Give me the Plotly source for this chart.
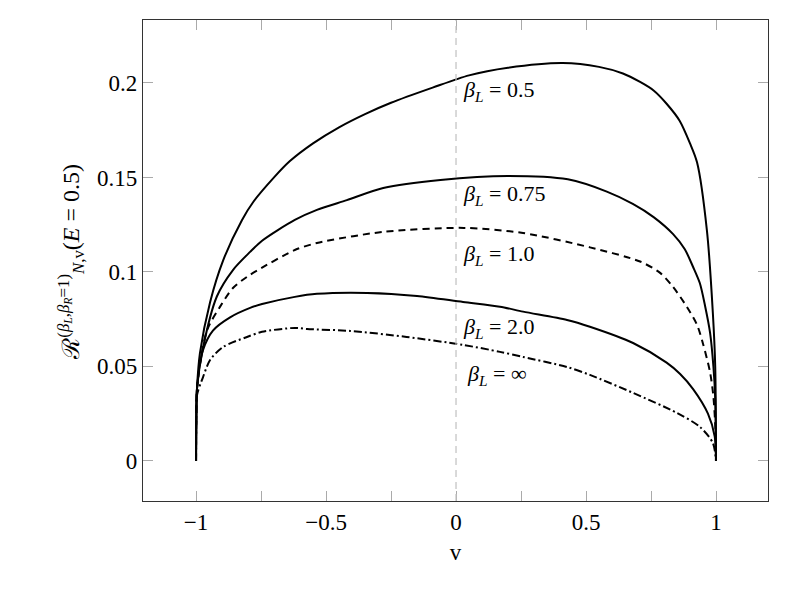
"""
Rate R_{N,v}^{(beta_L, beta_R=1)}(E=0.5) against v for several beta_L.
pgfplots-like look: boxed axes, inward ticks, serif text.
"""

import plotly.graph_objects as go

# ---------------------------------------------------------------------------
# Data
# ---------------------------------------------------------------------------
V_B05 = [-1, -0.999, -0.996, -0.985, -0.946, -0.896, -0.823, -0.78, -0.7,
         -0.64, -0.55, -0.45, -0.35, -0.25, -0.09, 0.05, 0.2, 0.41, 0.55,
         0.642, 0.708, 0.76, 0.81, 0.86, 0.9, 0.927, 0.965, 0.988, 0.997, 1]
R_B05 = [0, 0.022, 0.039, 0.057, 0.084, 0.106, 0.1275, 0.137, 0.150,
         0.1585, 0.168, 0.1765, 0.1835, 0.1895, 0.1975, 0.204, 0.208, 0.2105, 0.2085,
         0.205, 0.2005, 0.196, 0.189, 0.18, 0.168, 0.158, 0.122, 0.078, 0.05, 0]

V_B075 = [-1, -0.999, -0.996, -0.973, -0.92, -0.858, -0.792, -0.746, -0.62,
          -0.535, -0.42, -0.28, -0.06, 0.2, 0.43, 0.58, 0.68, 0.76, 0.835,
          0.88, 0.912, 0.938, 0.958, 0.977, 0.99, 0.997, 1]
R_B075 = [0, 0.022, 0.039, 0.060, 0.087, 0.101, 0.1106, 0.1165, 0.1275,
          0.1328, 0.138, 0.1444, 0.1487, 0.1508, 0.149, 0.1425, 0.136, 0.129, 0.12,
          0.112, 0.1026, 0.094, 0.082, 0.068, 0.05, 0.033, 0]

V_B1 = [-1, -0.999, -0.996, -0.958, -0.908, -0.858, -0.804, -0.762, -0.62,
        -0.535, -0.28, 0.03, 0.258, 0.515, 0.708, 0.785, 0.835, 0.888, 0.927,
        0.95, 0.977, 0.99, 0.998, 1]
R_B1 = [0, 0.022, 0.039, 0.069, 0.0815, 0.0915, 0.0974, 0.101, 0.1116,
        0.1153, 0.1212, 0.1233, 0.1206, 0.113, 0.1055, 0.0995, 0.092, 0.0815, 0.072,
        0.062, 0.047, 0.034, 0.016, 0]

V_B2 = [-1, -0.999, -0.996, -0.973, -0.935, -0.869, -0.792, -0.746, -0.62,
        -0.535, -0.342, -0.15, 0.027, 0.169, 0.258, 0.427, 0.515, 0.681,
        0.81, 0.862, 0.912, 0.969, 0.995, 1]
R_B2 = [0, 0.022, 0.039, 0.0587, 0.069, 0.076, 0.081, 0.083, 0.0868,
        0.0884, 0.0889, 0.0873, 0.0841, 0.0816, 0.079, 0.0746, 0.071, 0.0624,
        0.052, 0.046, 0.038, 0.025, 0.013, 0]

V_BINF = [-1, -0.999, -0.996, -0.973, -0.946, -0.896, -0.804, -0.746, -0.62,
          -0.573, -0.408, -0.19, 0.027, 0.169, 0.258, 0.427, 0.515, 0.681,
          0.85, 0.938, 0.988, 1]
R_BINF = [0, 0.02, 0.035, 0.0444, 0.0534, 0.0603, 0.0656, 0.0683, 0.0704,
          0.0698, 0.0688, 0.0656, 0.0614, 0.0577, 0.055, 0.0497, 0.0455, 0.036,
          0.0254, 0.018, 0.0095, 0]

LABELS = ["0.5", "0.75", "1.0", "2.0", "∞"]
LABEL_X = [0.02, 0.02, 0.02, 0.02, 0.035]
LABEL_Y = [0.196, 0.1407, 0.109, 0.0704, 0.0455]

X_TICKS = [-1, -0.75, -0.5, -0.25, 0, 0.25, 0.5, 0.75, 1]
X_TICKTEXT = ["−1", "", "−0.5", "", "0", "", "0.5", "", "1"]
Y_TICKS = [0, 0.05, 0.1, 0.15, 0.2]
Y_TICKTEXT = ["0", "0.05", "0.1", "0.15", "0.2"]

FONT = "Liberation Serif"
BLACK = "#000000"
GUIDE_GRAY = "#c0c0c0"

series = [
    (V_B05, R_B05, "solid"),
    (V_B075, R_B075, "solid"),
    (V_B1, R_B1, "7px,5px"),
    (V_B2, R_B2, "solid"),
    (V_BINF, R_BINF, "8px,3px,2px,3px"),
]

fig = go.Figure()

# dashed guide at v = 0
fig.add_vline(x=0, line=dict(color=GUIDE_GRAY, width=1.2, dash="7px,5px"))

for (vx, ry, dash), lab in zip(series, LABELS):
    fig.add_trace(go.Scatter(
        x=vx, y=ry, mode="lines", name=lab,
        line=dict(color=BLACK, width=2, dash=dash, shape="spline", smoothing=0.8),
        showlegend=False,
    ))

for lab, lx, ly in zip(LABELS, LABEL_X, LABEL_Y):
    fig.add_annotation(
        x=lx, y=ly, xref="x", yref="y",
        text=f"<i>β<sub>L</sub></i> = {lab}",
        showarrow=False, xanchor="left", yanchor="middle",
        font=dict(family=FONT, size=22, color=BLACK),
    )

# y-axis title as rotated annotation (sup + sub)
fig.add_annotation(
    x=-0.146, y=0.497, xref="paper", yref="paper",
    text="ℛ<sup>(<i>β<sub>L</sub></i>,<i>β<sub>R</sub></i>=1)</sup>"
         "<sub><i>N</i>,v</sub>(<i>E</i> = 0.5)",
    textangle=-90, showarrow=False,
    font=dict(family=FONT, size=24, color=BLACK),
)

axis_common = dict(
    showgrid=False, zeroline=False,
    showline=True, linecolor="#333333", linewidth=1.3, mirror="allticks",
    ticks="inside", ticklen=10, tickwidth=1, tickcolor="#aaaaaa",
    tickfont=dict(family=FONT, size=23, color=BLACK),
)

fig.update_xaxes(
    range=[-1.204, 1.2], tickmode="array",
    tickvals=X_TICKS, ticktext=X_TICKTEXT,
    title=dict(text="v", font=dict(family=FONT, size=23, color=BLACK), standoff=10),
    **axis_common,
)
fig.update_yaxes(
    range=[-0.0212, 0.2333], tickmode="array",
    tickvals=Y_TICKS, ticktext=Y_TICKTEXT,
    **axis_common,
)

# page body adds an 8 px offset, so margins are shifted to compensate
fig.update_layout(
    width=793, height=589,
    margin=dict(l=135, r=33, t=12, b=96),
    paper_bgcolor="white", plot_bgcolor="white",
    font=dict(family=FONT, color=BLACK),
)

fig.write_html("out.html")
